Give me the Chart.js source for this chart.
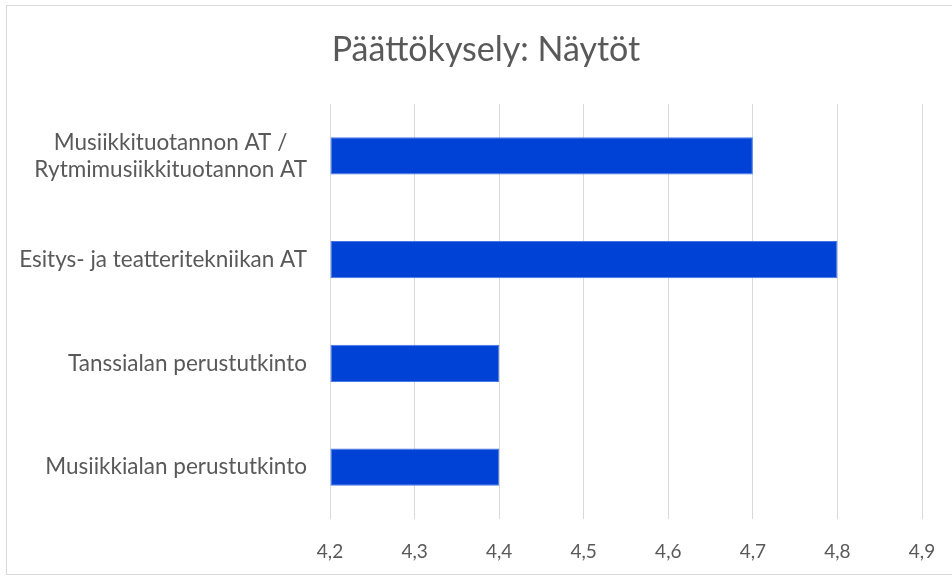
<!DOCTYPE html>
<html>
<head>
<meta charset="utf-8">
<script src="https://cdn.jsdelivr.net/npm/chart.js@4.4.1/dist/chart.umd.min.js"></script>
<style>
  html, body { margin: 0; padding: 0; background: #fff; }
  #wrap { width: 952px; height: 577px; }
</style>
</head>
<body>
<div id="wrap"><canvas id="myChart" width="952" height="577"></canvas></div>
<script>
// Data

const categories = [
  ['Musiikkituotannon AT /', 'Rytmimusiikkituotannon AT'],
  'Esitys- ja teatteritekniikan AT',
  'Tanssialan perustutkinto',
  'Musiikkialan perustutkinto'
];
const values = [4.7, 4.8, 4.4, 4.4];
const xMin = 4.2;
const xMax = 4.9;
const xStep = 0.1;
const chartTitle = 'Päättökysely: Näytöt';

// Chart

const textColor = '#595959';
const fontFamily = 'Lato, "Open Sans", sans-serif';
const labelFont = '22.5px ' + fontFamily;

// frame around the chart + title (Excel centres it on a chart area wider than the picture)
const framePlugin = {
  id: 'frame',
  beforeDraw: (chart) => {
    const ctx = chart.ctx;
    ctx.save();
    ctx.strokeStyle = '#d9d9d9';
    ctx.lineWidth = 1;
    ctx.strokeRect(6.5, 5.5, 1000, 569);
    ctx.restore();
  },
  afterDraw: (chart) => {
    const ctx = chart.ctx;
    ctx.save();
    ctx.fillStyle = textColor;
    ctx.font = '34px ' + fontFamily;
    ctx.textAlign = 'center';
    ctx.textBaseline = 'middle';
    ctx.fillText(chartTitle, 486, 50);
    ctx.restore();
  }
};

// multi-line labels: centre the lines inside the block like Excel does
const measureCtx = document.createElement('canvas').getContext('2d');
measureCtx.font = labelFont;
const centreLines = (label) => {
  if (!Array.isArray(label)) return label;
  const widths = label.map(l => measureCtx.measureText(l).width);
  const maxW = Math.max(...widths);
  const space = measureCtx.measureText('\u200A').width || 1;
  return label.map((l, i) => {
    const n = Math.round((maxW - widths[i]) / 2 / space);
    return l + '\u200A'.repeat(n);
  });
};

const ctx = document.getElementById('myChart').getContext('2d');
const myChart = new Chart(ctx, {
  type: 'bar',
  data: {
    labels: categories,
    datasets: [{
      data: values,
      backgroundColor: '#0041d6',
      borderColor: '#4677e4',
      borderWidth: 1,
      borderSkipped: false,
      barPercentage: 0.357,
      categoryPercentage: 1,
      base: xMin,
    }],
  },
  options: {
    indexAxis: 'y',
    responsive: false,
    animation: false,
    layout: { padding: { left: 0, right: 30, top: 104, bottom: 0 } },
    plugins: {
      legend: { display: false },
      tooltip: { enabled: false },
      title: { display: false },
    },
    scales: {
      x: {
        min: xMin,
        max: xMax,
        border: { display: false },
        grid: { color: '#d9d9d9', lineWidth: 1, drawTicks: false },
        ticks: {
          stepSize: xStep,
          color: textColor,
          padding: 21,
          font: { family: fontFamily, size: 19 },
          callback: (v) => Number(v).toFixed(1).replace('.', ','),
        },
        afterFit: (scale) => {
          scale.height = 58;
          scale.paddingLeft = 0;
          scale.paddingRight = 0;
        },
      },
      y: {
        border: { display: false },
        grid: { display: false, drawTicks: false },
        ticks: {
          color: textColor,
          padding: 23,
          font: { family: fontFamily, size: 22.5, lineHeight: 1.2 },
          callback: (v, i) => centreLines(categories[i]),
        },
        afterFit: (scale) => {
          scale.width = 330;
          scale.paddingTop = 0;
          scale.paddingBottom = 0;
        },
      },
    },
  },
  plugins: [framePlugin],
});
</script>
</body>
</html>
